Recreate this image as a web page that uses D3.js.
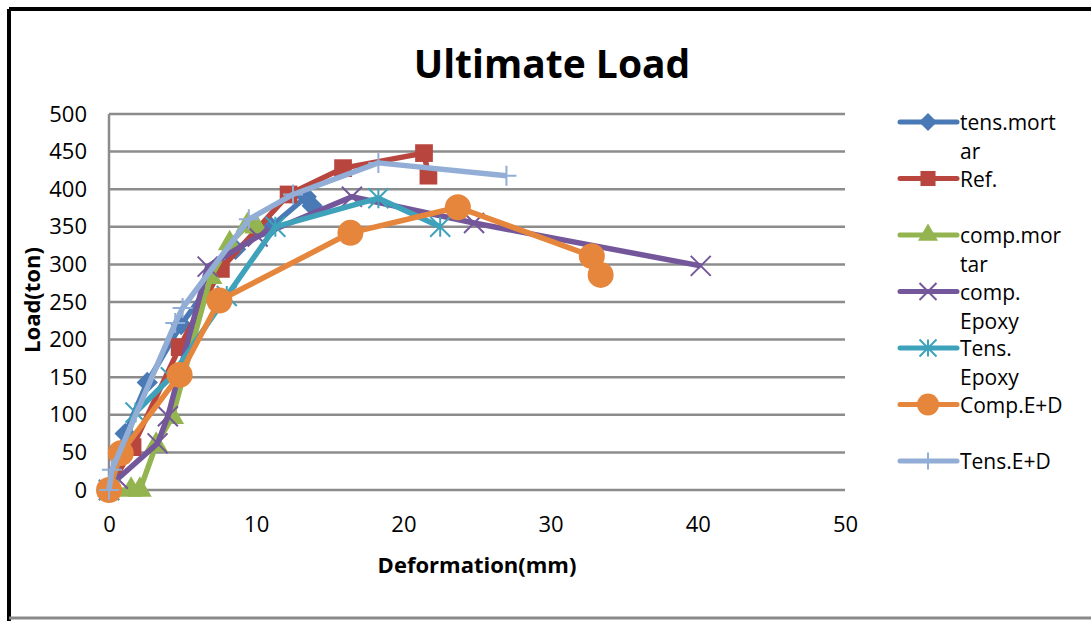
<!DOCTYPE html>
<html>
<head>
<meta charset="utf-8">
<script src="https://cdn.jsdelivr.net/npm/d3@7"></script>
<style>
	body { margin: 0; background: #fff; }
	svg { display: block; }
	text { font-family: "Open Sans", "Liberation Sans", sans-serif; fill: #000; }
</style>
</head>
<body>
<svg id="chart" width="1091" height="621"></svg>
<script>
// series names (legend wraps them like the original)
var seriesNames = ["tens.mortar", "Ref.", "comp.mortar", "comp. Epoxy", "Tens. Epoxy", "Comp.E+D", "Tens.E+D"];
var legendLines = [["tens.mort", "ar"], ["Ref."], ["comp.mor", "tar"], ["comp.", "Epoxy"], ["Tens.", "Epoxy"], ["Comp.E+D"], ["Tens.E+D"]];
var seriesColors = ["#4A7AB5", "#B8463F", "#93B44F", "#74579A", "#3FA2BB", "#E5863C", "#93AED6"];
var seriesMarkers = ["diamond", "square", "triangle", "cross", "star", "circle", "plus"];

// [deformation (mm), load (ton)]
var tensMortar = [[0, 0], [1.1, 75], [2.6, 143], [4.9, 220], [8.6, 320], [11, 350], [13.4, 390], [13.8, 378]];
var refValues = [[0, 0], [1.6, 57], [4.8, 190], [7.6, 294], [12.2, 393], [15.9, 428], [21.4, 448], [21.7, 418]];
var compMortar = [[0, 0], [1.5, 0], [2.1, 0], [3.2, 60], [4.3, 97], [6.9, 283], [8.2, 328], [9.4, 352], [10, 350]];
var compEpoxy = [[0, 0], [0.6, 15], [3.3, 62], [4.0, 98], [6.7, 297], [10.1, 337], [16.5, 390], [24.8, 355], [40.2, 298]];
var tensEpoxy = [[0, 0], [1.8, 103], [4.2, 150], [8.0, 258], [11.3, 350], [18.3, 388], [22.5, 350]];
var compED = [[0, 0], [0.8, 49], [4.8, 153], [7.5, 252], [16.4, 342], [23.7, 376], [32.8, 311], [33.4, 286]];
var tensED = [[0, 0], [0.2, 27], [4.5, 222], [5.0, 242], [9.5, 360], [12.5, 393], [18.3, 435], [27, 418]];

var xTicks = [0, 10, 20, 30, 40, 50];
var yTicks = [0, 50, 100, 150, 200, 250, 300, 350, 400, 450, 500];

var allSeries = [tensMortar, refValues, compMortar, compEpoxy, tensEpoxy, compED, tensED];

var svg = d3.select("#chart");

// outer frame like the pasted excel chart
svg.append("line").attr("x1", 9).attr("x2", 1091).attr("y1", 9).attr("y2", 9)
	.attr("stroke", "#000").attr("stroke-width", 4);
svg.append("line").attr("x1", 9).attr("x2", 9).attr("y1", 9).attr("y2", 621)
	.attr("stroke", "#000").attr("stroke-width", 4);
svg.append("line").attr("x1", 9).attr("x2", 1091).attr("y1", 618).attr("y2", 618)
	.attr("stroke", "#8a8a8a").attr("stroke-width", 3);

var x = d3.scaleLinear().domain([0, 50]).range([109, 845]);
var y = d3.scaleLinear().domain([0, 500]).range([490, 114]);

// gridlines
svg.append("g").selectAll("line")
	.data(yTicks)
	.enter().append("line")
	.attr("x1", x(0)).attr("x2", x(50))
	.attr("y1", function(d) { return y(d); })
	.attr("y2", function(d) { return y(d); })
	.attr("stroke", "#8c8c8c").attr("stroke-width", 2.5);

// vertical axis line
svg.append("line").attr("x1", x(0)).attr("x2", x(0)).attr("y1", y(500)).attr("y2", y(0))
	.attr("stroke", "#8c8c8c").attr("stroke-width", 2.5);

// axes (labels only)
var yAxis = svg.append("g").attr("transform", "translate(" + x(0) + ",0)")
	.call(d3.axisLeft(y).tickValues(yTicks).tickSize(0).tickPadding(22));
var xAxis = svg.append("g").attr("transform", "translate(0," + y(0) + ")")
	.call(d3.axisBottom(x).tickValues(xTicks).tickSize(0).tickPadding(26));
[yAxis, xAxis].forEach(function(axis) {
	axis.select(".domain").remove();
	axis.selectAll("text").attr("font-size", 22).attr("font-family", "Open Sans, sans-serif").attr("fill", "#000");
});

// titles
svg.append("text").attr("x", 552).attr("y", 78).attr("text-anchor", "middle")
	.attr("font-size", 39).attr("font-weight", "bold").text("Ultimate Load");
svg.append("text").attr("x", 477).attr("y", 573).attr("text-anchor", "middle")
	.attr("font-size", 22).attr("font-weight", "bold").text("Deformation(mm)");
svg.append("text").attr("transform", "translate(40,300) rotate(-90)").attr("text-anchor", "middle")
	.attr("font-size", 22).attr("font-weight", "bold").text("Load(ton)");

var drawMarker = function(g, type, color, size) {
	if (type == "diamond" || type == "square" || type == "triangle" || type == "circle") {
		var sym = { diamond: d3.symbolDiamond2, square: d3.symbolSquare2, triangle: d3.symbolTriangle2, circle: d3.symbolCircle }[type];
		var s = size;
		if (type == "diamond") s = size * 0.85;
		if (type == "circle") s = size * 1.15;
		g.append("path").attr("d", d3.symbol().type(sym).size(s * s)).attr("fill", color);
	}
	else {
		var r = size / 2;
		var p = d3.path();
		if (type == "cross" || type == "star") {
			p.moveTo(-r, -r); p.lineTo(r, r);
			p.moveTo(-r, r); p.lineTo(r, -r);
		}
		if (type == "star" || type == "plus") {
			p.moveTo(0, -r); p.lineTo(0, r);
		}
		if (type == "plus") {
			p.moveTo(-r, 0); p.lineTo(r, 0);
		}
		g.append("path").attr("d", p.toString()).attr("stroke", color).attr("stroke-width", 2).attr("fill", "none");
	}
};

var line = d3.line()
	.x(function(d) { return x(d[0]); })
	.y(function(d) { return y(d[1]); });

allSeries.forEach(function(values, i) {
	var g = svg.append("g").attr("class", "series");
	g.append("path").datum(values)
		.attr("d", line)
		.attr("fill", "none")
		.attr("stroke", seriesColors[i])
		.attr("stroke-width", 5.5)
		.attr("stroke-linejoin", "round");
	g.selectAll("g.marker")
		.data(values)
		.enter().append("g")
		.attr("class", "marker")
		.attr("transform", function(d) { return "translate(" + x(d[0]) + "," + y(d[1]) + ")"; })
		.each(function() { drawMarker(d3.select(this), seriesMarkers[i], seriesColors[i], 20); });
});

// legend, wrapped text like excel does it
var legend = svg.append("g").attr("transform", "translate(900,122)");
legendLines.forEach(function(lines, i) {
	var row = legend.append("g").attr("transform", "translate(0," + (i * 56.5) + ")");
	row.append("line").attr("x1", 0).attr("x2", 57).attr("y1", 0).attr("y2", 0)
		.attr("stroke", seriesColors[i]).attr("stroke-width", 5).attr("stroke-linecap", "round");
	var m = row.append("g").attr("transform", "translate(28,0)");
	drawMarker(m, seriesMarkers[i], seriesColors[i], 17);
	lines.forEach(function(t, j) {
		row.append("text").attr("x", 60).attr("y", 8 + j * 29)
			.attr("font-family", "Liberation Sans, Arial, sans-serif")
			.attr("font-size", 21).text(t);
	});
});
</script>
</body>
</html>
